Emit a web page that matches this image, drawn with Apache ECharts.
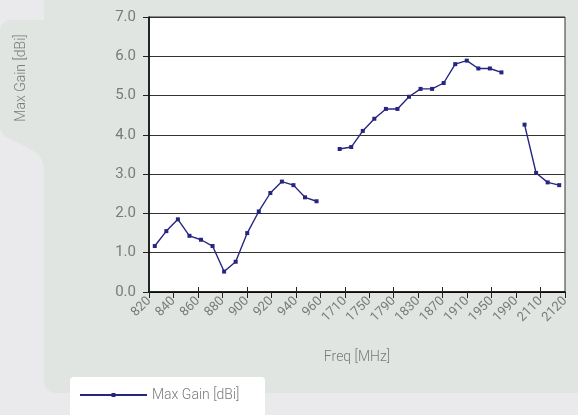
<!DOCTYPE html>
<html>
<head>
<meta charset="UTF-8">
<title>Max Gain</title>
<script src="https://cdn.jsdelivr.net/npm/echarts@6/dist/echarts.min.js"></script>
<style>
  html, body { margin: 0; padding: 0; background: #eaeaec; }
  #chart { width: 578px; height: 415px; }
</style>
</head>
<body>
<div id="chart"></div>
<script type="text/javascript">
// tick labels of the frequency axis
var axisLabels = ['820', '840', '860', '880', '900', '920', '940', '960', '1710', '1750',
                  '1790', '1830', '1870', '1910', '1950', '1990', '2110', '2120'];

// measured frequencies (one slot per point, '' = gap between bands)
var sampleFreqs = ['820', '830', '840', '850', '860', '870', '880', '890', '900', '910',
                   '920', '930', '940', '950', '960', '',
                   '1710', '1730', '1750', '1770', '1790', '1810', '1830', '1850', '1870',
                   '1890', '1910', '1930', '1950', '1970', '1990', ' ',
                   '2110', '2115', '2120', '2125'];

// max gain in dBi for every slot above
var maxGain = [1.17, 1.55, 1.85, 1.43, 1.33, 1.17, 0.52, 0.77, 1.50, 2.05,
               2.52, 2.81, 2.72, 2.41, 2.31, null,
               3.64, 3.69, 4.10, 4.41, 4.66, 4.66, 4.97, 5.17, 5.17,
               5.32, 5.80, 5.89, 5.69, 5.69, 5.59, null,
               4.26, 3.03, 2.79, 2.72];

var yTicks = [0, 7, 1]; // min, max, step

var font = 'Roboto, "Liberation Sans", sans-serif';
var grey = '#7a7a7a';

var myChart = echarts.init(document.getElementById('chart'));

var option = {
    backgroundColor: '#eaeaec',
    animation: false,
    textStyle: { fontFamily: font },
    graphic: [
        // panel behind the chart
        {
            type: 'rect', z: -10,
            shape: { x: 44, y: -12, width: 560, height: 405, r: 12 },
            style: { fill: '#e0e5e1' }
        },
        // tab holding the y axis title
        {
            type: 'polygon', z: -10,
            shape: {
                points: [[0, 30], [2, 24], [8, 20], [50, 20], [50, 168], [44, 168],
                         [42, 160], [38, 154], [30, 149], [12, 140], [4, 136], [0, 129]]
            },
            style: { fill: '#e0e5e1' }
        },
        // legend box
        {
            type: 'rect', z: -5,
            shape: { x: 70, y: 377, width: 195, height: 50, r: 4 },
            style: { fill: '#ffffff' }
        },
        {
            type: 'text', z: 5,
            x: 21, y: 78, rotation: Math.PI / 2,
            style: {
                text: 'Max Gain [dBi]',
                fill: grey, font: '300 14px ' + font,
                align: 'center', verticalAlign: 'middle'
            }
        }
    ],
    legend: {
        left: 79, top: 388, padding: 0,
        itemWidth: 67, itemHeight: 5,
        itemGap: 10,
        textStyle: { color: grey, fontSize: 14, fontWeight: 300, fontFamily: font, padding: [0, 0, 0, 0] },
        data: ['Max Gain [dBi]']
    },
    grid: {
        left: 149, right: 13, top: 17, bottom: 123,
        show: true,
        backgroundColor: '#ffffff',
        borderColor: '#333', borderWidth: 1
    },
    xAxis: [{
        // visible axis: ticks and labels
        type: 'category',
        data: axisLabels,
        boundaryGap: false,
        name: 'Freq [MHz]',
        nameLocation: 'middle',
        nameGap: 58,
        nameTextStyle: { color: grey, fontSize: 14, fontWeight: 300 },
        axisLine: { lineStyle: { color: '#000', width: 1.5 } },
        axisTick: { length: 6, lineStyle: { color: '#222' } },
        axisLabel: { rotate: 45, interval: 0, color: grey, fontSize: 13, margin: 7 },
        splitLine: { show: false }
    }, {
        // same ticks, drawn inwards
        type: 'category',
        position: 'bottom',
        data: axisLabels,
        boundaryGap: false,
        axisLine: { show: false },
        axisTick: { inside: true, length: 5, lineStyle: { color: '#222' } },
        axisLabel: { show: false },
        splitLine: { show: false }
    }, {
        // hidden axis the points sit on
        type: 'category',
        position: 'bottom',
        data: sampleFreqs,
        boundaryGap: true,
        show: false
    }],
    yAxis: {
        type: 'value',
        min: yTicks[0], max: yTicks[1], interval: yTicks[2],
        axisLine: { show: true, lineStyle: { color: '#000', width: 1.5 } },
        axisTick: { show: true, length: 6, lineStyle: { color: '#222' } },
        axisLabel: {
            color: grey, fontSize: 15, margin: 13,
            formatter: function (v) { return v.toFixed(1); }
        },
        splitLine: { lineStyle: { color: '#333', width: 1 } }
    },
    series: [{
        name: 'Max Gain [dBi]',
        type: 'line',
        xAxisIndex: 2,
        data: maxGain,
        connectNulls: false,
        symbol: 'rect',
        symbolSize: 4,
        itemStyle: { color: '#262680' },
        lineStyle: { color: '#262680', width: 1.4 }
    }]
};

myChart.setOption(option);
</script>
</body>
</html>
